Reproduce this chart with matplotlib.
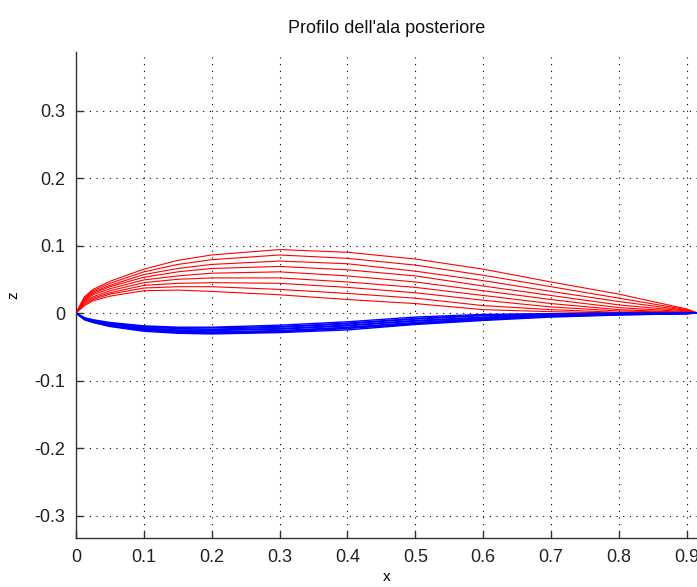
import matplotlib
matplotlib.use('Agg')
import matplotlib.pyplot as plt

plt.rcParams['font.family'] = ['Liberation Sans', 'DejaVu Sans']

# stazioni lungo la corda
x_st = [0.0, 0.0125, 0.025, 0.05, 0.1, 0.15, 0.2, 0.3, 0.4, 0.5, 0.6, 0.7, 0.8, 0.9, 0.916]

# dorsi (rosso)
dorso_1 = [0, 0.024, 0.035, 0.047, 0.065, 0.078, 0.086, 0.094, 0.090, 0.080, 0.065, 0.046, 0.028, 0.006, 0]
dorso_2 = [0, 0.023, 0.033, 0.044, 0.061, 0.072, 0.079, 0.086, 0.081, 0.071, 0.056, 0.039, 0.022, 0.005, 0]
dorso_3 = [0, 0.021, 0.031, 0.041, 0.057, 0.066, 0.072, 0.077, 0.073, 0.062, 0.048, 0.032, 0.017, 0.004, 0]
dorso_4 = [0, 0.020, 0.029, 0.039, 0.053, 0.061, 0.066, 0.069, 0.064, 0.055, 0.040, 0.026, 0.012, 0.003, 0]
dorso_5 = [0, 0.018, 0.027, 0.036, 0.049, 0.055, 0.059, 0.061, 0.055, 0.046, 0.033, 0.020, 0.008, 0.002, 0]
dorso_6 = [0, 0.017, 0.024, 0.033, 0.045, 0.050, 0.052, 0.052, 0.046, 0.038, 0.026, 0.014, 0.005, 0.001, 0]
dorso_7 = [0, 0.015, 0.022, 0.030, 0.041, 0.044, 0.045, 0.044, 0.038, 0.030, 0.019, 0.009, 0.003, 0.001, 0]
dorso_8 = [0, 0.013, 0.020, 0.028, 0.037, 0.039, 0.039, 0.035, 0.029, 0.022, 0.011, 0.005, 0.001, 0, 0]
dorso_9 = [0, 0.011, 0.018, 0.025, 0.033, 0.034, 0.032, 0.027, 0.020, 0.014, 0.005, 0.002, 0, 0, 0]

# ventri (blu)
ventre_1 = [0, -0.010, -0.014, -0.020, -0.027, -0.030, -0.031, -0.029, -0.025, -0.017, -0.011, -0.006, -0.003, -0.001, 0]
ventre_2 = [0, -0.0095, -0.0135, -0.019, -0.026, -0.029, -0.030, -0.028, -0.023, -0.016, -0.010, -0.005, -0.0025, -0.001, 0]
ventre_3 = [0, -0.009, -0.013, -0.0185, -0.025, -0.028, -0.029, -0.027, -0.022, -0.015, -0.009, -0.0045, -0.002, -0.0008, 0]
ventre_4 = [0, -0.0088, -0.0125, -0.018, -0.024, -0.027, -0.028, -0.026, -0.021, -0.014, -0.008, -0.004, -0.0018, -0.0006, 0]
ventre_5 = [0, -0.0085, -0.012, -0.017, -0.023, -0.026, -0.026, -0.024, -0.019, -0.012, -0.007, -0.003, -0.0014, -0.0005, 0]
ventre_6 = [0, -0.008, -0.0115, -0.016, -0.022, -0.025, -0.025, -0.023, -0.018, -0.011, -0.006, -0.0025, -0.001, -0.0004, 0]
ventre_7 = [0, -0.0078, -0.011, -0.0155, -0.021, -0.023, -0.024, -0.021, -0.016, -0.009, -0.004, -0.002, -0.0007, -0.0002, 0]
ventre_8 = [0, -0.0074, -0.0105, -0.015, -0.020, -0.022, -0.022, -0.020, -0.015, -0.008, -0.003, -0.0015, -0.0004, 0, 0]
ventre_9 = [0, -0.007, -0.010, -0.014, -0.019, -0.021, -0.021, -0.018, -0.013, -0.006, -0.002, -0.001, 0, 0, 0]

dorsi = [dorso_1, dorso_2, dorso_3, dorso_4, dorso_5, dorso_6, dorso_7, dorso_8, dorso_9]
ventri = [ventre_1, ventre_2, ventre_3, ventre_4, ventre_5, ventre_6, ventre_7, ventre_8, ventre_9]

x_ticks = [0, 0.1, 0.2, 0.3, 0.4, 0.5, 0.6, 0.7, 0.8, 0.9]
y_ticks = [-0.3, -0.2, -0.1, 0, 0.1, 0.2, 0.3]
x_ticklabels = ['0', '0.1', '0.2', '0.3', '0.4', '0.5', '0.6', '0.7', '0.8', '0.9']
y_ticklabels = ['-0.3', '-0.2', '-0.1', '0', '0.1', '0.2', '0.3']

W, H = 697, 587
fig = plt.figure(figsize=(W / 100, H / 100), dpi=100)
ax = fig.add_axes([76 / W, (H - 538) / H, 622 / W, 486 / H])

for d in dorsi:
    ax.plot(x_st, d, color='r', lw=0.8)
for v in ventri:
    ax.plot(x_st, v, color='b', lw=1.0)

ax.set_xlim(0, 0.9166)
ax.set_ylim(-0.3333, 0.3867)
ax.set_xticks(x_ticks)
ax.set_xticklabels(x_ticklabels)
ax.set_yticks(y_ticks)
ax.set_yticklabels(y_ticklabels)

ax.grid(True, color='k', ls=(0, (1, 5)), lw=0.8)
ax.spines['top'].set_visible(False)
ax.spines['right'].set_visible(False)
for s in ['left', 'bottom']:
    ax.spines[s].set_linewidth(1.0)
    ax.spines[s].set_color('#333333')
ax.tick_params(direction='in', length=5, width=1.0, colors='#333333', labelsize=13, pad=8)
ax.tick_params(labelcolor='#222222')

ax.set_title("Profilo dell'ala posteriore", fontsize=13, pad=14, color='#111111')
ax.set_xlabel('x', fontsize=11, labelpad=3)
ax.set_ylabel('z', fontsize=11, labelpad=10)

fig.savefig('out.png', dpi=100)
